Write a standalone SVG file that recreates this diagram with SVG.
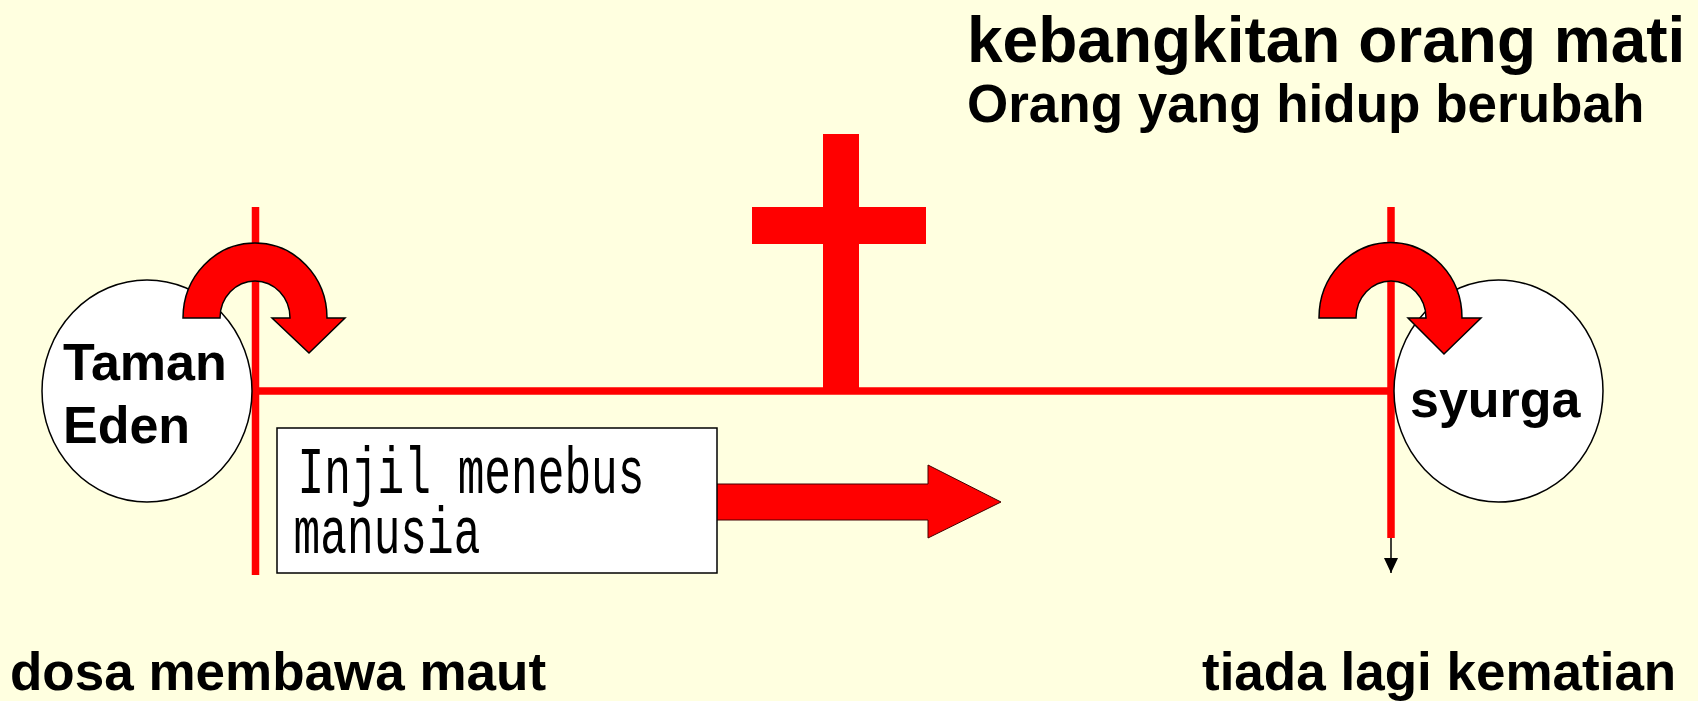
<svg xmlns="http://www.w3.org/2000/svg" width="1698" height="701" viewBox="0 0 1698 701">
<style>
.lbl{font-family:"Liberation Sans",Arial,sans-serif;font-weight:bold;fill:#000}
.red{fill:#FF0000}
.redline{stroke:#FF0000;fill:none}
.node{fill:#FFFFFF;stroke:#000;stroke-width:1.5}
.curv{fill:#FF0000;stroke:#000;stroke-width:1.5;stroke-linejoin:miter}
.mono{font-family:"Liberation Mono","Courier New",monospace;font-size:66px;fill:#000}
</style>
<defs>
<marker id="ah" markerWidth="16" markerHeight="14" refX="15" refY="7" orient="auto" markerUnits="userSpaceOnUse">
<path d="M0,0 L15,7 L0,14 Z" fill="#000"/>
</marker>
</defs>
<rect x="0" y="0" width="1698" height="701" fill="#FFFFE0"/>

<g id="titles">
<text class="lbl" x="967" y="62" font-size="64">kebangkitan orang mati</text>
<text class="lbl" x="967" y="122" font-size="53">Orang yang hidup berubah</text>
<text class="lbl" x="10" y="690" font-size="53">dosa membawa maut</text>
<text class="lbl" x="1202" y="690" font-size="53">tiada lagi kematian</text>
</g>

<g id="connectors">
<line class="redline" x1="255.5" y1="207" x2="255.5" y2="575" stroke-width="7.5"/>
<line class="redline" x1="255" y1="391" x2="1391" y2="391" stroke-width="7.5"/>
<line class="redline" x1="1391" y1="207" x2="1391" y2="538" stroke-width="7.5"/>
<line x1="1391" y1="538" x2="1391" y2="573" stroke="#000" stroke-width="1.5" marker-end="url(#ah)"/>
<path class="red" d="M716,484 L928,484 L928,465 L1001,502 L928,538 L928,520 L716,520 Z" stroke="#400" stroke-width="1"/>
</g>

<g id="cross">
<rect class="red" x="823" y="134" width="36" height="257"/>
<rect class="red" x="752" y="207" width="174" height="37"/>
</g>

<g id="taman-eden">
<ellipse class="node" cx="147" cy="391" rx="105" ry="111"/>
<text class="lbl" x="63" y="380" font-size="52">Taman</text>
<text class="lbl" x="63" y="443" font-size="52">Eden</text>
</g>

<g id="syurga">
<ellipse class="node" cx="1498.5" cy="391" rx="104.5" ry="111"/>
<text class="lbl" x="1410" y="417" font-size="52">syurga</text>
</g>

<g id="injil">
<rect x="277" y="428" width="440" height="145" fill="#FFFFFF" stroke="#000" stroke-width="1.5"/>
<text class="mono" transform="scale(0.674,1)"><tspan x="441.4" y="493">Injil menebus</tspan><tspan x="435.6" y="553">manusia</tspan></text>
</g>

<g id="curved-arrows">
<path class="curv" d="M183,318 A72,75 0 0 1 327,318 L345,318 L309,353 L272,318 L290,318 A35,37 0 0 0 220,318 Z"/>
<path class="curv" d="M1319,318 A71,75 0 0 1 1462,318 L1481,318 L1444,354 L1408,318 L1426,318 A35,37 0 0 0 1356,318 Z"/>
</g>
</svg>
